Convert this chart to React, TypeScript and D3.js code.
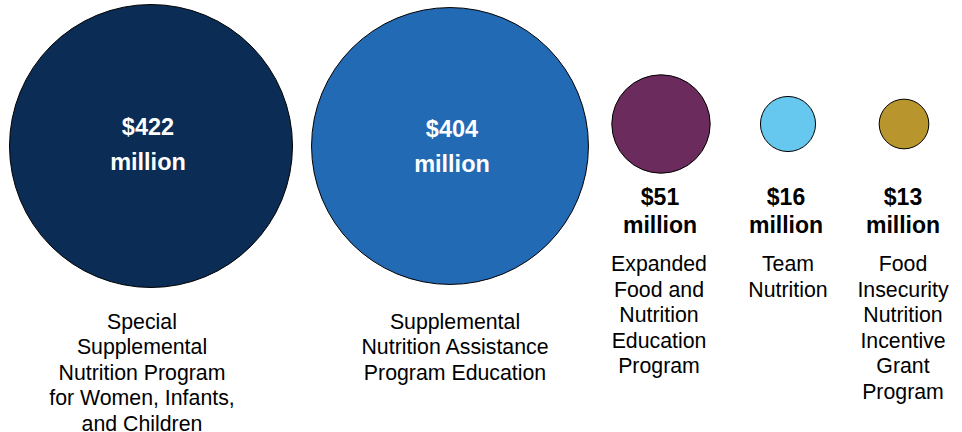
import * as d3 from "d3";
import { useEffect, useRef } from "react";

const WIDTH = 962;
const HEIGHT = 432;

const PROGRAMS = ["WIC", "SNAP-Ed", "EFNEP", "Team", "GusNIP"];
const AMOUNTS = [422, 404, 51, 16, 13];
const VALUE_LABELS = ["$422", "$404", "$51", "$16", "$13"];
const NAME_LINES = [
  ["Special", "Supplemental", "Nutrition Program", "for Women, Infants,", "and Children"],
  ["Supplemental", "Nutrition Assistance", "Program Education"],
  ["Expanded", "Food and", "Nutrition", "Education", "Program"],
  ["Team", "Nutrition"],
  ["Food", "Insecurity", "Nutrition", "Incentive", "Grant", "Program"],
];
const COLORS = ["#0b2c54", "#236ab4", "#6b2c5d", "#66c7ef", "#b9952d"];

const BIG = 100; // amounts above this get the label inside the circle
const FONT = "'Liberation Sans', Arial, sans-serif";

export default function App() {
  const svgRef = useRef<SVGSVGElement>(null);

  useEffect(() => {
    if (!svgRef.current) return;
    const svg = d3.select(svgRef.current);
    svg.selectAll("*").remove();

    const r = d3.scaleSqrt().domain([0, d3.max(AMOUNTS)!]).range([0, 141.5]);
    // column layout
    const x = d3
      .scaleOrdinal<string, number>()
      .domain(PROGRAMS)
      .range([151, 450, 661, 788, 904]);
    const valueX = d3
      .scaleOrdinal<string, number>()
      .domain(PROGRAMS)
      .range([148, 452, 660, 786, 903]);
    const textX = d3
      .scaleOrdinal<string, number>()
      .domain(PROGRAMS)
      .range([142, 455, 659, 788, 903]);

    const data = PROGRAMS.map((p, i) => ({
      name: p,
      amount: AMOUNTS[i],
      value: VALUE_LABELS[i],
      lines: NAME_LINES[i],
      color: COLORS[i],
      big: AMOUNTS[i] > BIG,
    }));

    const g = svg
      .selectAll("g.item")
      .data(data)
      .enter()
      .append("g")
      .attr("class", "item");

    g.append("circle")
      .attr("cx", (d) => x(d.name))
      .attr("cy", (d) => (d.big ? 146 : 124))
      .attr("r", (d) => r(d.amount))
      .attr("fill", (d) => d.color)
      .attr("stroke", "#000")
      .attr("stroke-width", 1);

    g.each(function (d, k) {
      const sel = d3.select(this);
      const big = d.big;

      // dollar amounts
      sel
        .selectAll("text.val")
        .data([d.value, "million"])
        .enter()
        .append("text")
        .attr("class", "val")
        .attr("x", valueX(d.name))
        .attr("y", (_, i) => (big ? 135 + k * 2 : 205) + i * (big ? 34.5 : 28))
        .attr("text-anchor", "middle")
        .attr("font-family", FONT)
        .attr("font-weight", 700)
        .attr("font-size", big ? 23.5 : 23)
        .attr("fill", big ? "#fff" : "#000")
        .text((t) => t);

      // program names
      sel
        .selectAll("text.name")
        .data(d.lines)
        .enter()
        .append("text")
        .attr("class", "name")
        .attr("x", textX(d.name))
        .attr("y", (_, i) => (big ? 328.5 : 271) + i * 25.5)
        .attr("text-anchor", "middle")
        .attr("font-family", FONT)
        .attr("font-size", 21.3)
        .attr("fill", "#000")
        .text((t) => t);
    });
  }, []);

  return (
    <svg
      ref={svgRef}
      width={WIDTH}
      height={HEIGHT}
      style={{ position: "absolute", left: 0, top: 0, background: "#fff" }}
    ></svg>
  );
}
